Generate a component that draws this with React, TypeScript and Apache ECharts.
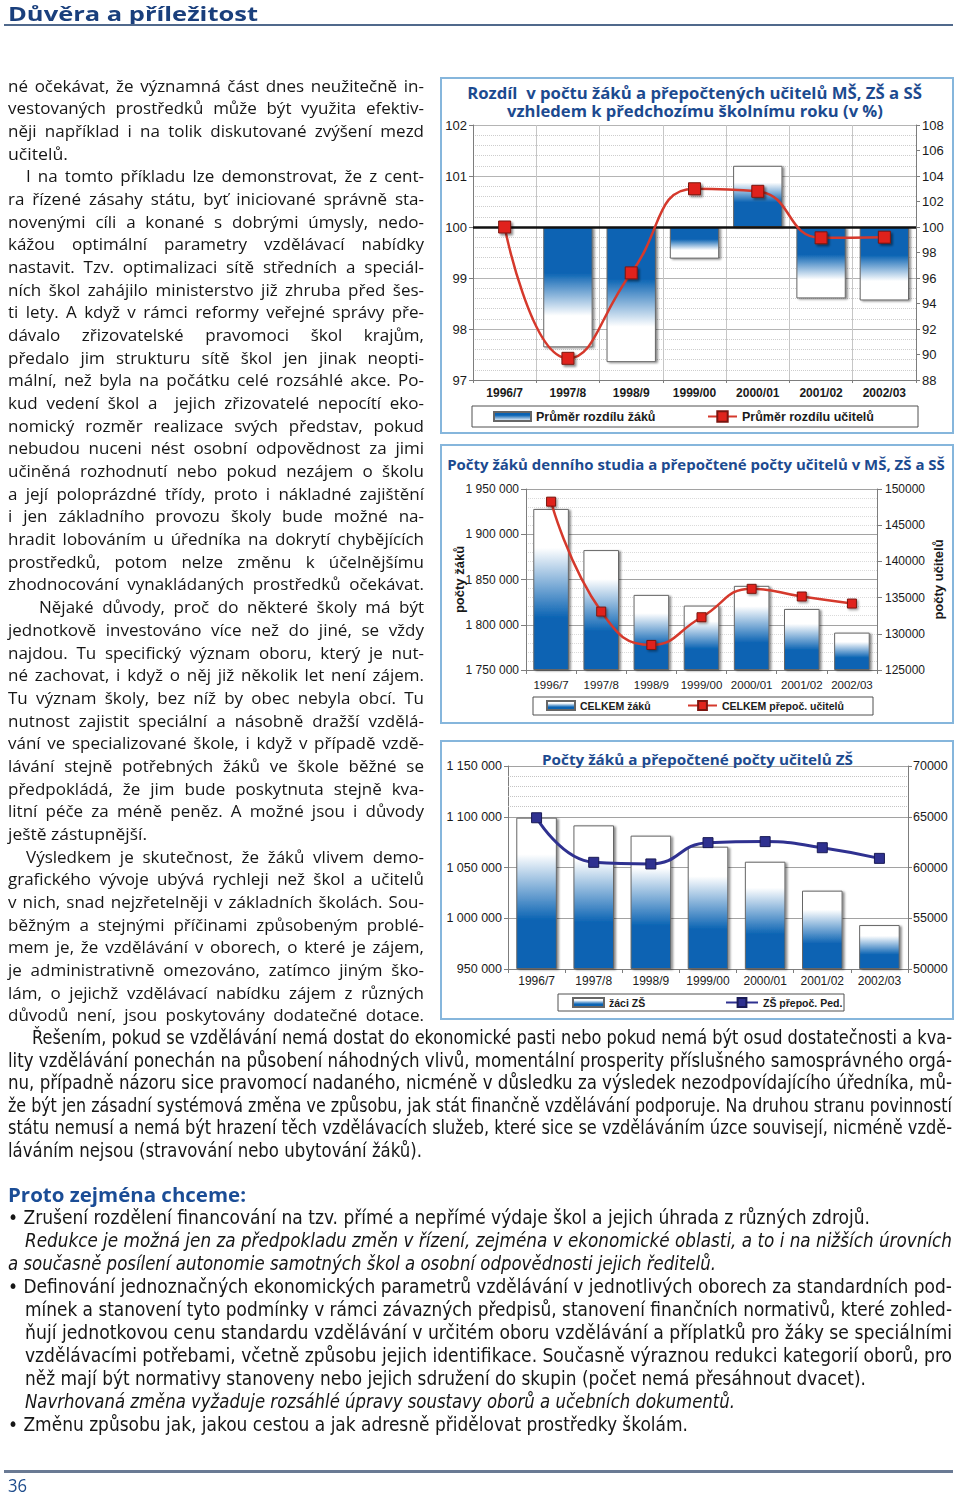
import React, { useEffect, useLayoutEffect, useRef } from 'react';
import * as echarts from 'echarts';

// ---------------- data ----------------
const YEARS = ['1996/7', '1997/8', '1998/9', '1999/00', '2000/01', '2001/02', '2002/03'];

// Chart 1 – change against previous school year (in %), 100 = no change
const PUPILS_CHANGE = [100, 97.64, 97.35, 99.38, 101.2, 98.6, 98.56];
const TEACHERS_CHANGE = [100, 89.7, 96.4, 103.0, 102.8, 99.15, 99.2];
const CHANGE_BASE = 100;
const CHANGE_LEFT_TICKS = [97, 98, 99, 100, 101, 102];
const CHANGE_RIGHT_TICKS = [88, 90, 92, 94, 96, 98, 100, 102, 104, 106, 108];

// Chart 2 – pupils (MŠ, ZŠ, SŠ) and teachers
const PUPILS_TOTAL = [1928000, 1882500, 1833000, 1821200, 1843000, 1817500, 1791300];
const TEACHERS_TOTAL = [148250, 133070, 128460, 132290, 136210, 135150, 134180];
const TOTAL_LEFT_TICKS = [1750000, 1800000, 1850000, 1900000, 1950000];
const TOTAL_RIGHT_TICKS = [125000, 130000, 135000, 140000, 145000, 150000];

// Chart 3 – ZŠ pupils and teachers
const PUPILS_ZS = [1099100, 1091500, 1081400, 1070500, 1055700, 1027200, 993300];
const TEACHERS_ZS = [64900, 60510, 60350, 62450, 62550, 61950, 60900];
const ZS_LEFT_TICKS = [950000, 1000000, 1050000, 1100000, 1150000];
const ZS_RIGHT_TICKS = [50000, 55000, 60000, 65000, 70000];
const ZS_DOTTED_LEVELS = [1110000, 1120000, 1130000, 1140000];

// ---------------- text ----------------
const LEFT_COL: [string, number, number][] = [
  ['né očekávat, že významná část dnes neužitečně in-', 8, 424],
  ['vestovaných prostředků může být využita efektiv-', 8, 424],
  ['něji například i na tolik diskutované zvýšení mezd', 8, 424],
  ['učitelů.', 8, 68],
  ['I na tomto příkladu lze demonstrovat, že z cent-', 26, 424],
  ['ra řízené zásahy státu, byť iniciované správně sta-', 8, 424],
  ['novenými cíli a konané s dobrými úmysly, nedo-', 8, 424],
  ['kážou optimální parametry vzdělávací nabídky', 8, 424],
  ['nastavit. Tzv. optimalizaci sítě středních a speciál-', 8, 424],
  ['ních škol zahájilo ministerstvo již zhruba před šes-', 8, 424],
  ['ti lety. A když v rámci reformy veřejné správy pře-', 8, 424],
  ['dávalo zřizovatelské pravomoci škol krajům,', 8, 424],
  ['předalo jim strukturu sítě škol jen jinak neopti-', 8, 424],
  ['mální, než byla na počátku celé rozsáhlé akce. Po-', 8, 424],
  ['kud vedení škol a  jejich zřizovatelé nepocítí eko-', 8, 424],
  ['nomický rozměr realizace svých představ, pokud', 8, 424],
  ['nebudou nuceni nést osobní odpovědnost za jimi', 8, 424],
  ['učiněná rozhodnutí nebo pokud nezájem o školu', 8, 424],
  ['a její poloprázdné třídy, proto i nákladné zajištění', 8, 424],
  ['i jen základního provozu školy bude možné na-', 8, 424],
  ['hradit lobováním u úředníka na dokrytí chybějících', 8, 424],
  ['prostředků, potom nelze změnu k účelnějšímu', 8, 424],
  ['zhodnocování vynakládaných prostředků očekávat.', 8, 424],
  ['Nějaké důvody, proč do některé školy má být', 39, 424],
  ['jednotkově investováno více než do jiné, se vždy', 8, 424],
  ['najdou. Tu specifický význam oboru, který je nut-', 8, 424],
  ['né zachovat, i když o něj již několik let není zájem.', 8, 424],
  ['Tu význam školy, bez níž by obec nebyla obcí. Tu', 8, 424],
  ['nutnost zajistit speciální a násobně dražší vzdělá-', 8, 424],
  ['vání ve specializované škole, i když v případě vzdě-', 8, 424],
  ['lávání stejně potřebných žáků ve škole běžné se', 8, 424],
  ['předpokládá, že jim bude poskytnuta stejně kva-', 8, 424],
  ['litní péče za méně peněz. A možné jsou i důvody', 8, 424],
  ['ještě zástupnější.', 8, 147],
  ['Výsledkem je skutečnost, že žáků vlivem demo-', 26, 424],
  ['grafického vývoje ubývá rychleji než škol a učitelů', 8, 424],
  ['v nich, snad nejzřetelněji v základních školách. Sou-', 8, 424],
  ['běžným a stejnými příčinami způsobeným problé-', 8, 424],
  ['mem je, že vzdělávání v oborech, o které je zájem,', 8, 424],
  ['je administrativně omezováno, zatímco jiným ško-', 8, 424],
  ['lám, o jejichž vzdělávací nabídku zájem z různých', 8, 424],
  ['důvodů není, jsou poskytovány dodatečné dotace.', 8, 424],
];

const FULL_PARA: [string, number, number][] = [
  ['Řešením, pokud se vzdělávání nemá dostat do ekonomické pasti nebo pokud nemá být osud dostatečnosti a kva-', 32, 952],
  ['lity vzdělávání ponechán na působení náhodných vlivů, momentální prosperity příslušného samosprávného orgá-', 8, 952],
  ['nu, případně názoru sice pravomocí nadaného, nicméně v důsledku za výsledek nezodpovídajícího úředníka, mů-', 8, 952],
  ['že být jen zásadní systémová změna ve způsobu, jak stát finančně vzdělávání podporuje. Na druhou stranu povinností', 8, 952],
  ['státu nemusí a nemá být hrazení těch vzdělávacích služeb, které sice se vzděláváním úzce souvisejí, nicméně vzdě-', 8, 952],
  ['láváním nejsou (stravování nebo ubytování žáků).', 8, 422],
];

const BULLETS: [string, number, number, boolean][] = [
  ['• Zrušení rozdělení financování na tzv. přímé a nepřímé výdaje škol a jejich úhrada z různých zdrojů.', 8, 870, false],
  ['Redukce je možná jen za předpokladu změn v řízení, zejména v ekonomické oblasti, a to i na nižších úrovních', 25, 952, true],
  ['a současně posílení autonomie samotných škol a osobní odpovědnosti jejich ředitelů.', 8, 716, true],
  ['• Definování jednoznačných ekonomických parametrů vzdělávání v jednotlivých oborech za standardních pod-', 8, 952, false],
  ['mínek a stanovení tyto podmínky v rámci závazných předpisů, stanovení finančních normativů, které zohled-', 25, 952, false],
  ['ňují jednotkovou cenu standardu vzdělávání v určitém oboru vzdělávání a příplatků pro žáky se speciálními', 25, 952, false],
  ['vzdělávacími potřebami, včetně způsobu jejich identifikace. Současně výraznou redukci kategorií oborů, pro', 25, 952, false],
  ['něž mají být normativy stanoveny nebo jejich sdružení do skupin (počet nemá přesáhnout dvacet).', 25, 866, false],
  ['Navrhovaná změna vyžaduje rozsáhlé úpravy soustavy oborů a učebních dokumentů.', 25, 735, true],
  ['• Změnu způsobu jak, jakou cestou a jak adresně přidělovat prostředky školám.', 8, 688, false],
];

// ---------------- styles ----------------
const FONT_BODY = '"Open Sans", "Noto Sans", "DejaVu Sans", sans-serif';
const FONT_COND = '"Liberation Sans Narrow", "DejaVu Sans Condensed", "Liberation Sans", Arial, sans-serif';
const FONT_ARIAL = '"Liberation Sans", Arial, sans-serif';
const TITLE_BLUE = '#1c4a8f';
const BLUE = '#0a63b3';
const RED_LINE = '#d5392c';
const RED_MARK = '#e0241d';
const NAVY = '#2f3190';
const AXIS_GRAY = '#7d7d7d';

const fmtSpace = (n: number) => String(Math.round(n)).replace(/\B(?=(\d{3})+(?!\d))/g, ' ');
const fmtPlain = (n: number) => String(Math.round(n));

function grad(stops: Array<[number, string]>) {
  return new echarts.graphic.LinearGradient(0, 0, 0, 1, stops.map(([offset, color]) => ({ offset, color })));
}

function measure(text: string, font: string) {
  const ctx = document.createElement('canvas').getContext('2d')!;
  ctx.font = font;
  return ctx.measureText(text).width;
}

function fittedTitle(text: string, cx: number, cy: number, width: number, size: number) {
  const natural = measure(text, `bold ${size}px "Open Sans"`) || width;
  return {
    type: 'text',
    x: cx,
    y: cy,
    scaleX: width / natural,
    silent: true,
    z: 5,
    style: {
      text,
      fontFamily: FONT_BODY,
      fontWeight: 'bold',
      fontSize: size,
      fill: TITLE_BLUE,
      textAlign: 'center',
      verticalAlign: 'middle',
    },
  };
}

function axisRange(ticks: number[], base = 0) {
  return { min: ticks[0] - base, max: ticks[ticks.length - 1] - base, interval: ticks[1] - ticks[0] };
}

function buildOption() {
  const frameBox = (x: number, y: number, w: number, h: number) => ({
    type: 'rect', silent: true, z: 0,
    shape: { x, y, width: w, height: h },
    style: { fill: 'rgba(0,0,0,0)', stroke: '#86b6dc', lineWidth: 2 },
  });
  const legendBox = (x: number, y: number, w: number, h: number) => ({
    type: 'rect', silent: true, z: 1,
    shape: { x, y, width: w, height: h },
    style: { fill: '#ffffff', stroke: '#505050', lineWidth: 1 },
  });

  const downGrad = grad([[0, BLUE], [0.38, BLUE], [0.74, '#ffffff'], [1, '#ffffff']]);
  const upGrad = grad([[0, '#ffffff'], [0.27, '#ffffff'], [0.6, BLUE], [1, BLUE]]);
  const barGrad = grad([[0, '#ffffff'], [0.24, '#ffffff'], [0.68, BLUE], [1, BLUE]]);
  const legendGrad = grad([[0, BLUE], [0.35, BLUE], [1, '#ffffff']]);

  const totalBase = TOTAL_LEFT_TICKS[0];
  const zsBase = ZS_LEFT_TICKS[0];

  const valueLabel = (font: string, size: number, margin: number, formatter?: (v: number) => string) => ({
    fontFamily: font, fontSize: size, color: '#1a1a1a', margin, formatter,
  });
  const axisLine = { show: true, lineStyle: { color: AXIS_GRAY, width: 1 } };
  const axisTick = { show: true, length: 4, lineStyle: { color: AXIS_GRAY } };

  const barStyle = (color: any) => ({
    color,
    borderColor: '#666666',
    borderWidth: 1,
    shadowColor: 'rgba(0,0,0,0.45)',
    shadowBlur: 2,
    shadowOffsetX: 2,
    shadowOffsetY: 1,
  });

  const legendText = (font: string, size: number) => ({ fontFamily: font, fontWeight: 'bold', fontSize: size, color: '#1a1a1a' });
  const axisName = { fontFamily: FONT_ARIAL, fontWeight: 'bold', fontSize: 13, color: '#1a1a1a' };

  return {
    animation: false,
    graphic: [
      frameBox(441, 78, 512, 355),
      frameBox(441, 445, 512, 278),
      frameBox(441, 741, 512, 278),
      legendBox(472, 406, 446, 21),
      legendBox(533, 697, 340, 18),
      legendBox(558, 994, 286, 17),
      fittedTitle('Rozdíl  v počtu žáků a přepočtených učitelů MŠ, ZŠ a SŠ', 694.5, 93, 455, 15.5),
      fittedTitle('vzhledem k předchozímu školnímu roku (v %)', 695, 111.5, 376, 15.5),
      fittedTitle('Počty žáků denního studia a přepočtené počty učitelů v MŠ, ZŠ a SŠ', 696, 464, 498, 14.5),
      fittedTitle('Počty žáků a přepočtené počty učitelů ZŠ', 697.5, 759, 311, 15),
    ],
    legend: [
      { data: ['Průměr rozdílu žáků'], left: 493, top: 410, padding: 0, itemWidth: 37, itemHeight: 9, icon: 'rect', textStyle: legendText(FONT_ARIAL, 12.5), z: 10 },
      { data: ['Průměr rozdílu učitelů'], left: 707, top: 410, padding: 0, itemWidth: 29, itemHeight: 13, textStyle: legendText(FONT_ARIAL, 12.5), z: 10 },
      { data: ['CELKEM žáků'], left: 546, top: 700, padding: 0, itemWidth: 28, itemHeight: 9, icon: 'rect', textStyle: legendText(FONT_ARIAL, 10.5), z: 10 },
      { data: ['CELKEM přepoč. učitelů'], left: 687, top: 700, padding: 0, itemWidth: 29, itemHeight: 11, textStyle: legendText(FONT_ARIAL, 10.5), z: 10 },
      { data: ['žáci ZŠ'], left: 572, top: 997, padding: 0, itemWidth: 31, itemHeight: 9, icon: 'rect', textStyle: legendText(FONT_ARIAL, 10.5), z: 10 },
      { data: ['ZŠ přepoč. Ped.'], left: 725, top: 997, padding: 0, itemWidth: 32, itemHeight: 11, textStyle: legendText(FONT_ARIAL, 10.5), z: 10 },
    ],
    grid: [
      { left: 473, top: 125, width: 443, height: 255, outerBoundsMode: 'none' },
      { left: 526, top: 489, width: 351, height: 181, outerBoundsMode: 'none' },
      { left: 508, top: 766, width: 400, height: 203, outerBoundsMode: 'none' },
    ],
    xAxis: [
      {
        type: 'category', gridIndex: 0, data: YEARS, boundaryGap: true,
        axisLine: { ...axisLine, onZero: false }, axisTick: { ...axisTick, length: 3 },
        axisLabel: { fontFamily: FONT_ARIAL, fontWeight: 'bold', fontSize: 12, color: '#1a1a1a', margin: 7, interval: 0 },
        splitLine: { show: true, lineStyle: { color: '#c6c6c6', width: 1 } },
      },
      {
        type: 'category', gridIndex: 1, data: YEARS, boundaryGap: true,
        axisLine: { ...axisLine, onZero: false }, axisTick,
        axisLabel: { fontFamily: FONT_ARIAL, fontSize: 11.5, color: '#1a1a1a', margin: 9, interval: 0 },
        splitLine: { show: false },
      },
      {
        type: 'category', gridIndex: 2, data: YEARS, boundaryGap: true,
        axisLine: { ...axisLine, onZero: false }, axisTick,
        axisLabel: { fontFamily: FONT_ARIAL, fontSize: 12, color: '#1a1a1a', margin: 6, interval: 0 },
        splitLine: { show: false },
      },
    ],
    yAxis: [
      {
        type: 'value', gridIndex: 0, position: 'left', ...axisRange(CHANGE_LEFT_TICKS, CHANGE_BASE),
        axisLine, axisTick,
        axisLabel: valueLabel(FONT_ARIAL, 13, 6, (v: number) => fmtPlain(v + CHANGE_BASE)),
        splitLine: { show: true, lineStyle: { color: '#b4b4b4', width: 1 } },
        minorTick: { show: false, splitNumber: 5 },
        minorSplitLine: { show: true, lineStyle: { color: '#cdcdcd', type: 'dotted', width: 1 } },
      },
      {
        type: 'value', gridIndex: 0, position: 'right', ...axisRange(CHANGE_RIGHT_TICKS),
        axisLine, axisTick,
        axisLabel: valueLabel(FONT_ARIAL, 13, 6, fmtPlain),
        splitLine: { show: false },
      },
      {
        type: 'value', gridIndex: 1, position: 'left', ...axisRange(TOTAL_LEFT_TICKS, totalBase),
        axisLine, axisTick: { ...axisTick, length: 5 },
        axisLabel: valueLabel(FONT_ARIAL, 12, 7, (v: number) => fmtSpace(v + totalBase)),
        splitLine: { show: true, lineStyle: { color: '#a2a2a2', width: 1 } },
        minorTick: { show: false, splitNumber: 5 },
        minorSplitLine: { show: true, lineStyle: { color: '#dadada', type: 'dotted', width: 1 } },
        name: 'počty žáků', nameLocation: 'middle', nameGap: 60, nameRotate: 90, nameMoveOverlap: false,
        nameTextStyle: axisName,
      },
      {
        type: 'value', gridIndex: 1, position: 'right', ...axisRange(TOTAL_RIGHT_TICKS),
        axisLine, axisTick: { ...axisTick, length: 5 },
        axisLabel: valueLabel(FONT_ARIAL, 12, 8, fmtPlain),
        splitLine: { show: false },
        name: 'počty učitelů', nameLocation: 'middle', nameGap: 55, nameRotate: 90, nameMoveOverlap: false,
        nameTextStyle: axisName,
      },
      {
        type: 'value', gridIndex: 2, position: 'left', ...axisRange(ZS_LEFT_TICKS, zsBase),
        axisLine, axisTick,
        axisLabel: valueLabel(FONT_ARIAL, 12.5, 6, (v: number) => fmtSpace(v + zsBase)),
        splitLine: { show: true, lineStyle: { color: '#a2a2a2', width: 1 } },
      },
      {
        type: 'value', gridIndex: 2, position: 'right', ...axisRange(ZS_RIGHT_TICKS),
        axisLine, axisTick,
        axisLabel: valueLabel(FONT_ARIAL, 12.5, 5, fmtPlain),
        splitLine: { show: false },
      },
    ],
    series: [
      {
        type: 'bar', name: 'Průměr rozdílu žáků', xAxisIndex: 0, yAxisIndex: 0,
        barCategoryGap: '22%',
        itemStyle: barStyle(legendGrad),
        data: PUPILS_CHANGE.map((v) => ({
          value: +(v - CHANGE_BASE).toFixed(3),
          itemStyle: { color: v >= CHANGE_BASE ? upGrad : downGrad },
        })),
        markLine: {
          silent: true, symbol: 'none', label: { show: false },
          lineStyle: { color: '#111111', width: 2.5, type: 'solid' },
          emphasis: { disabled: true },
          data: [{ yAxis: 0 }],
        },
      },
      {
        type: 'line', name: 'Průměr rozdílu učitelů', xAxisIndex: 0, yAxisIndex: 1,
        data: TEACHERS_CHANGE, smooth: 0.5, symbol: 'rect', symbolSize: 12, z: 5,
        lineStyle: { color: RED_LINE, width: 2.5 },
        itemStyle: { color: RED_MARK, borderColor: '#7a1510', borderWidth: 1, shadowColor: 'rgba(0,0,0,0.45)', shadowBlur: 2, shadowOffsetX: 2, shadowOffsetY: 2 },
      },
      {
        type: 'bar', name: 'CELKEM žáků', xAxisIndex: 1, yAxisIndex: 2,
        barCategoryGap: '29%',
        itemStyle: barStyle(barGrad),
        data: PUPILS_TOTAL.map((v) => v - totalBase),
      },
      {
        type: 'line', name: 'CELKEM přepoč. učitelů', xAxisIndex: 1, yAxisIndex: 3,
        data: TEACHERS_TOTAL, smooth: 0.5, symbol: 'rect', symbolSize: 9, z: 5,
        lineStyle: { color: RED_LINE, width: 2.5 },
        itemStyle: { color: RED_MARK, borderColor: '#7a1510', borderWidth: 1, shadowColor: 'rgba(0,0,0,0.4)', shadowBlur: 2, shadowOffsetX: 1.5, shadowOffsetY: 1.5 },
      },
      {
        type: 'bar', name: 'žáci ZŠ', xAxisIndex: 2, yAxisIndex: 4,
        barCategoryGap: '29%',
        itemStyle: barStyle(barGrad),
        data: PUPILS_ZS.map((v) => v - zsBase),
        markLine: {
          silent: true, symbol: 'none', label: { show: false },
          lineStyle: { color: '#c4c4c4', width: 1, type: 'dotted' },
          emphasis: { disabled: true },
          data: ZS_DOTTED_LEVELS.map((v) => ({ yAxis: v - zsBase })),
        },
      },
      {
        type: 'line', name: 'ZŠ přepoč. Ped.', xAxisIndex: 2, yAxisIndex: 5,
        data: TEACHERS_ZS, smooth: 0.5, symbol: 'rect', symbolSize: 10, z: 5,
        lineStyle: { color: NAVY, width: 3 },
        itemStyle: { color: NAVY, borderColor: '#1a1b55', borderWidth: 1 },
      },
    ],
  };
}

// ---------------- text fitting ----------------
function fitLines(root: HTMLElement) {
  root.querySelectorAll<HTMLElement>('[data-w]').forEach((el) => {
    const target = parseFloat(el.dataset.w || '0');
    const just = el.dataset.j === '1';
    const maxScale = parseFloat(el.dataset.m || '1');
    el.style.wordSpacing = '0px';
    el.style.transform = 'none';
    const w = el.getBoundingClientRect().width;
    if (!w) return;
    if (just) {
      const scale = Math.min(target / w, maxScale);
      const spaces = (el.textContent || '').split(' ').length - 1;
      if (scale !== 1) el.style.transform = `scaleX(${scale})`;
      const rest = target / scale - w;
      if (rest > 0 && spaces > 0) el.style.wordSpacing = `${rest / spaces}px`;
    } else {
      el.style.transform = `scaleX(${target / w})`;
    }
  });
}

type LineProps = {
  text: string; x0: number; x1: number; cy: number; just: boolean; maxScale: number;
  style: React.CSSProperties;
};

function Line({ text, x0, x1, cy, just, maxScale, style }: LineProps) {
  return (
    <span
      data-w={x1 - x0}
      data-j={just ? '1' : '0'}
      data-m={maxScale}
      style={{
        position: 'absolute', left: x0, top: cy - 12.5, lineHeight: '22px', height: 22,
        whiteSpace: 'pre', display: 'inline-block', transformOrigin: '0 50%', color: '#161616',
        ...style,
      }}
    >
      {text}
    </span>
  );
}

export default function App() {
  const pageRef = useRef<HTMLDivElement>(null);
  const chartRef = useRef<HTMLDivElement>(null);

  useLayoutEffect(() => {
    const run = () => { if (pageRef.current) fitLines(pageRef.current); };
    run();
    const fonts = (document as any).fonts;
    if (fonts && fonts.ready) fonts.ready.then(run);
  }, []);

  useEffect(() => {
    if (!chartRef.current) return;
    const chart = echarts.init(chartRef.current, undefined, { renderer: 'svg' });
    chart.setOption(buildOption() as any);
    const fonts = (document as any).fonts;
    if (fonts && fonts.ready) fonts.ready.then(() => { if (!chart.isDisposed()) chart.setOption(buildOption() as any, true); });
    return () => chart.dispose();
  }, []);

  const bodyStyle: React.CSSProperties = { fontFamily: FONT_BODY, fontSize: 16.5 };
  const condStyle: React.CSSProperties = { fontFamily: FONT_COND, fontSize: 19.5 };

  return (
    <div ref={pageRef} style={{ position: 'absolute', left: 0, top: 0, width: 960, height: 1496, overflow: 'hidden', background: '#ffffff' }}>
      <div ref={chartRef} style={{ position: 'absolute', left: 0, top: 0, width: 960, height: 1496 }} />

      <Line text="Důvěra a příležitost" x0={8} x1={258} cy={15.2} just={false} maxScale={1}
        style={{ fontFamily: FONT_BODY, fontWeight: 700, fontSize: 20, color: '#1a3f7c' }} />
      <div style={{ position: 'absolute', left: 4, top: 24, width: 949, height: 2, background: '#50698c' }} />

      {LEFT_COL.map(([t, x0, x1], i) => (
        <Line key={'l' + i} text={t} x0={x0} x1={x1} cy={87 + i * 22.68} just={x1 >= 420} maxScale={1.03} style={bodyStyle} />
      ))}

      {FULL_PARA.map(([t, x0, x1], i) => (
        <Line key={'f' + i} text={t} x0={x0} x1={x1} cy={1039.5 + i * 22.6} just={x1 >= 948} maxScale={1.18} style={condStyle} />
      ))}

      <Line text="Proto zejména chceme:" x0={8} x1={246} cy={1196} just={false} maxScale={1}
        style={{ fontFamily: FONT_BODY, fontWeight: 700, fontSize: 19, color: '#1b4d96' }} />

      {BULLETS.map(([t, x0, x1, it], i) => (
        <Line key={'b' + i} text={t} x0={x0} x1={x1} cy={1219.5 + i * 23} just={x1 >= 948} maxScale={1.18}
          style={{ ...condStyle, fontStyle: it ? 'italic' : 'normal' }} />
      ))}

      <div style={{ position: 'absolute', left: 4, top: 1470, width: 949, height: 3, background: '#6a7a94' }} />
      <Line text="36" x0={8} x1={27} cy={1486} just={false} maxScale={1}
        style={{ fontFamily: FONT_BODY, fontSize: 18, color: '#1d4c8c' }} />
    </div>
  );
}
